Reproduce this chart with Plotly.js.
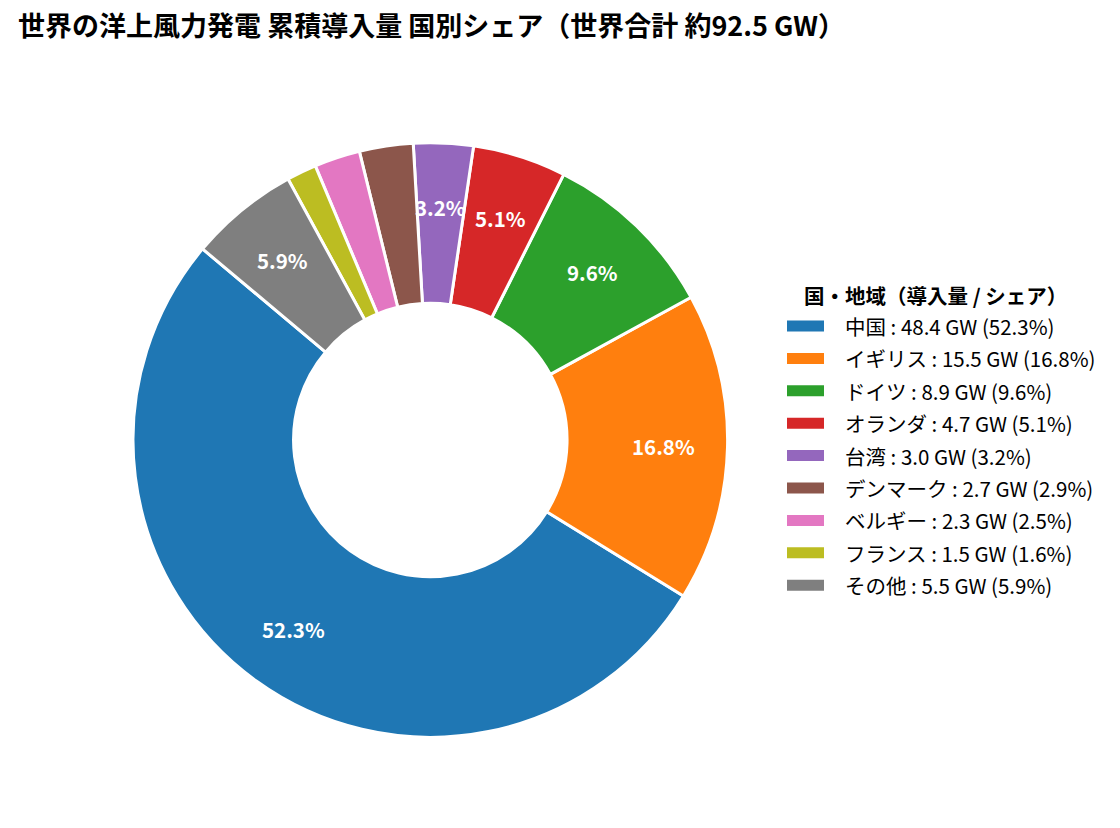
<!DOCTYPE html>
<html>
<head>
<meta charset="utf-8">
<script src="https://cdn.plot.ly/plotly-3.0.1.min.js"></script>
<style>
  html, body { margin: 0; padding: 0; background: #fff; }
  #chart { width: 1120px; height: 828px; }
</style>
</head>
<body>
<div id="chart"></div>
<script>
// 国・地域と累積導入量 (GW)
const countries = ['中国', 'イギリス', 'ドイツ', 'オランダ', '台湾', 'デンマーク', 'ベルギー', 'フランス', 'その他']
const capacityGW = [48.4, 15.5, 8.9, 4.7, 3.0, 2.7, 2.3, 1.5, 5.5]
const colors = ['#1f77b4', '#ff7f0e', '#2ca02c', '#d62728', '#9467bd', '#8c564b', '#e377c2', '#bcbd22', '#7f7f7f']

const W = 1120
const H = 828
const FONT = '"Noto Sans CJK JP", "Noto Sans", sans-serif'

// pie geometry (pixels)
const cx = 430.3
const cy = 440
const R = 297.3
const startAngle = -50 // first slice begins here (deg clockwise from 12 o'clock), slices go counterclockwise
const labelR = 233
const minLabelPct = 3

const total = capacityGW.reduce((a, b) => a + b, 0)
const pcts = capacityGW.map(v => v / total * 100)

// plotly puts the first counterclockwise slice ending at `rotation`, so shift by its size
let rot = startAngle - pcts[0] * 3.6
while (rot < -180) rot += 360
while (rot > 180) rot -= 360

const data = [{
  type: 'pie',
  values: capacityGW,
  labels: countries,
  sort: false,
  direction: 'counterclockwise',
  rotation: rot,
  hole: 0.46,
  marker: { colors: colors, line: { color: '#ffffff', width: 3 } },
  textinfo: 'none',
  hoverinfo: 'label+value+percent',
  showlegend: false,
  domain: {
    x: [(cx - R) / W, (cx + R) / W],
    y: [(H - cy - R) / H, (H - cy + R) / H]
  }
}]

// percent labels inside the ring
const annotations = []
let cum = 0
capacityGW.forEach((v, i) => {
  const mid = (cum + v / 2) / total
  cum += v
  if (pcts[i] < minLabelPct) return
  const th = (startAngle - mid * 360) * Math.PI / 180
  annotations.push({
    xref: 'paper',
    yref: 'paper',
    x: (cx + labelR * Math.sin(th)) / W,
    y: (H - cy + labelR * Math.cos(th)) / H,
    xanchor: 'center',
    yanchor: 'middle',
    text: pcts[i].toFixed(1) + '%',
    showarrow: false,
    font: { family: FONT, size: 20.5, color: '#ffffff', weight: 'bold' }
  })
})

// legend drawn by hand, matplotlib style
const legX = 787
const legTop = 326
const legStep = 32.4
const shapes = []
annotations.push({
  xref: 'paper',
  yref: 'paper',
  x: 935 / W,
  y: 1 - 295 / H,
  xanchor: 'center',
  yanchor: 'middle',
  text: '国・地域（導入量 / シェア）',
  showarrow: false,
  font: { family: FONT, size: 20.5, color: '#000000', weight: 'bold' }
})
countries.forEach((name, i) => {
  const yc = legTop + i * legStep
  shapes.push({
    type: 'rect',
    xref: 'paper',
    yref: 'paper',
    x0: legX / W,
    x1: (legX + 37) / W,
    y0: 1 - (yc - 5.5) / H,
    y1: 1 - (yc + 5.5) / H,
    fillcolor: colors[i],
    line: { width: 0 }
  })
  annotations.push({
    xref: 'paper',
    yref: 'paper',
    x: 843 / W,
    y: 1 - yc / H,
    xanchor: 'left',
    yanchor: 'middle',
    text: name + ' : ' + capacityGW[i].toFixed(1) + ' GW (' + pcts[i].toFixed(1) + '%)',
    showarrow: false,
    font: { family: FONT, size: 20.5, color: '#000000' }
  })
})

const layout = {
  width: W,
  height: H,
  margin: { l: 0, r: 0, t: 0, b: 0 },
  paper_bgcolor: '#ffffff',
  font: { family: FONT, color: '#000000' },
  title: {
    text: '世界の洋上風力発電 累積導入量 国別シェア（世界合計 約' + total.toFixed(1) + ' GW）',
    font: { family: FONT, size: 27, color: '#000000', weight: 'bold' },
    xref: 'paper',
    yref: 'paper',
    x: 18 / W,
    xanchor: 'left',
    y: 1 - 27 / H,
    yanchor: 'middle'
  },
  showlegend: false,
  annotations: annotations,
  shapes: shapes
}

Plotly.newPlot('chart', data, layout, { displayModeBar: false, staticPlot: true })
</script>
</body>
</html>
